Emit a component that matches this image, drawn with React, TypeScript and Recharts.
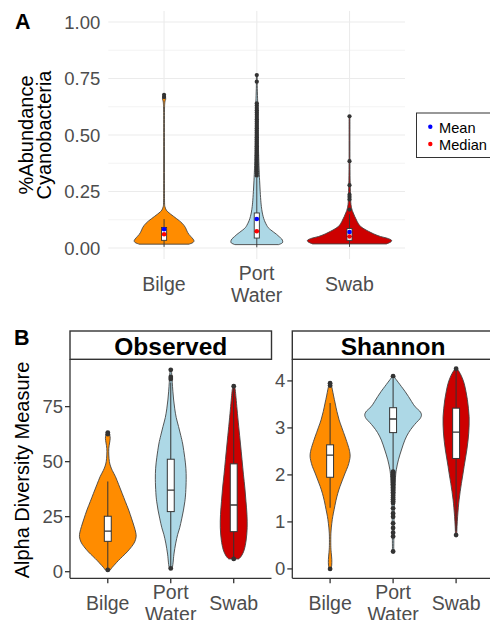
import React from 'react';
import { ComposedChart, Bar, XAxis, YAxis, CartesianGrid } from 'recharts';

type Pt = [number, number];

const FONT = '"Liberation Sans", Arial, Helvetica, sans-serif';

const categories = ['Bilge', 'Port Water', 'Swab'];
const fills = ['#FF8C00', '#ADD8E6', '#CD0000'];

// ---------- Panel A : %Abundance Cyanobacteria ----------
const abundanceTicks = [0, 0.25, 0.5, 0.75, 1];
const abundanceMinorTicks = [0.125, 0.375, 0.625, 0.875];
const abundanceDomain: [number, number] = [-0.05, 1.05];

// [value, density] along each violin
const abundanceBilgeDensity: Pt[] = [
  [0.017, 25], [0.024, 29], [0.032, 30], [0.04, 29], [0.05, 27], [0.06, 25], [0.07, 23.5],
  [0.08, 22.5], [0.09, 21.5], [0.1, 20], [0.11, 18], [0.12, 15.5], [0.13, 12.5], [0.14, 9.5],
  [0.15, 6.5], [0.16, 3.8], [0.168, 2.2], [0.18, 1.1], [0.2, 0.5], [0.3, 0.35], [0.45, 0.3],
  [0.6, 0.35], [0.645, 0.8], [0.658, 1.6], [0.668, 1.4], [0.678, 0.5],
];
const abundancePortDensity: Pt[] = [
  [0.015, 22], [0.022, 25.5], [0.03, 26], [0.04, 25], [0.05, 22.5], [0.06, 20], [0.07, 17],
  [0.08, 14], [0.09, 11.5], [0.1, 10], [0.115, 8.3], [0.13, 7], [0.15, 5.8], [0.17, 5],
  [0.2, 4.2], [0.25, 3.4], [0.3, 2.8], [0.35, 2.3], [0.42, 1.8], [0.5, 1.5], [0.6, 1.2],
  [0.66, 0.8], [0.72, 0.4], [0.765, 0.3],
];
const abundanceSwabDensity: Pt[] = [
  [0.018, 37], [0.027, 41.5], [0.035, 42], [0.043, 38], [0.051, 31], [0.062, 24.5],
  [0.074, 19], [0.085, 14.5], [0.096, 11], [0.107, 9], [0.118, 7.6], [0.13, 6.3], [0.14, 5.2],
  [0.15, 4.3], [0.16, 3.3], [0.175, 2.2], [0.2, 1.3], [0.25, 0.9], [0.3, 0.6], [0.4, 0.4],
  [0.5, 0.35], [0.583, 0.3],
];
const abundanceQ1 = [0.034, 0.044, 0.034];
const abundanceMedian = [0.061, 0.074, 0.051];
const abundanceQ3 = [0.091, 0.155, 0.086];
const abundanceWhiskerLow = [0.005, 0.003, 0.005];
const abundanceWhiskerHigh = [0.128, 0.31, 0.15];
const abundanceMean = [0.083, 0.128, 0.071];
const abundanceBilgeOutliers = [0.668, 0.678];
const abundancePortOutliers = [
  0.32, 0.33, 0.34, 0.35, 0.36, 0.37, 0.38, 0.39, 0.4, 0.41, 0.42, 0.43, 0.44, 0.45, 0.46,
  0.47, 0.48, 0.49, 0.5, 0.51, 0.52, 0.53, 0.54, 0.55, 0.56, 0.57, 0.58, 0.59, 0.6, 0.61,
  0.62, 0.63, 0.64, 0.736, 0.765,
];
const abundanceSwabOutliers = [0.17, 0.215, 0.226, 0.236, 0.278, 0.384, 0.583];

// ---------- Panel B : Observed ----------
const observedTicks = [0, 25, 50, 75];
const observedDomain: [number, number] = [-3.0, 96.5];
const observedBilgeDensity: Pt[] = [
  [0.8, 2.5], [2, 4.5], [3.5, 7.5], [5, 10.5], [7, 15], [9, 19.5], [11.4, 24], [13.5, 27],
  [15.9, 28.5], [18, 28], [20.5, 26.5], [24, 24], [28, 21], [32, 17.5], [35.6, 14.4],
  [39.5, 11], [43.2, 7.7], [46, 4.5], [48, 2.7], [50, 1.6], [53, 1], [56, 1], [58.5, 1.8],
  [60.5, 2.4], [62, 2], [63.2, 0.8],
];
const observedPortDensity: Pt[] = [
  [1.5, 1.5], [4, 2.3], [8, 3.2], [13, 5], [17, 7], [20, 9], [24, 11], [28, 12.8], [32, 14.2],
  [36, 15], [42, 15.5], [47, 15.2], [52, 14], [58, 12], [62, 10], [66, 7.8], [70, 5.5],
  [74, 4], [78, 2.9], [82, 2.1], [86, 1.5], [89, 1.1], [91.7, 0.6],
];
const observedSwabDensity: Pt[] = [
  [5.8, 5], [7, 7.5], [9.9, 10.5], [14.4, 12.5], [20, 13.5], [26, 13.3], [32, 12.3],
  [38, 11.2], [44, 9.8], [51, 8.3], [58, 6.8], [66, 5], [73.5, 3.4], [79, 2.3], [82.6, 1.5],
  [84.5, 0.6],
];
const observedQ1 = [13.8, 27.3, 18.2];
const observedMedian = [18.4, 37.1, 30.3];
const observedQ3 = [25.2, 51.1, 49];
const observedWhiskerLow = [0.8, 1.5, 5.8];
const observedWhiskerHigh = [41, 86, 84.5];
const observedBilgeOutliers = [0.8, 62.5, 63.2];
const observedPortOutliers = [1.5, 87.5, 88.5, 91.7];
const observedSwabOutliers = [5.8, 84.3];

// ---------- Panel B : Shannon ----------
const shannonTicks = [0, 1, 2, 3, 4];
const shannonDomain: [number, number] = [-0.2, 4.46];
const shannonBilgeDensity: Pt[] = [
  [0, 1], [0.08, 1.6], [0.2, 1.7], [0.35, 1.1], [0.5, 0.7], [0.76, 0.8], [0.97, 1.7],
  [1.12, 2.7], [1.26, 4], [1.45, 5.8], [1.61, 7.7], [1.75, 9.8], [1.89, 12.3], [2.04, 15],
  [2.18, 17.7], [2.3, 19.3], [2.4, 20], [2.5, 19.5], [2.62, 18], [2.81, 15], [3.0, 11.8],
  [3.17, 9], [3.35, 6.8], [3.53, 5], [3.68, 3.5], [3.81, 2.3], [3.9, 1.4], [3.95, 0.8],
];
const shannonPortDensity: Pt[] = [
  [0.35, 0.6], [0.8, 0.8], [1.3, 1.1], [1.7, 1.7], [1.95, 2.4], [2.11, 3.2], [2.32, 5.3],
  [2.53, 8.3], [2.74, 11.7], [2.9, 15.5], [3.02, 19.5], [3.12, 23.5], [3.2, 27], [3.28, 28.3],
  [3.36, 26.5], [3.45, 22], [3.56, 18.5], [3.67, 15.3], [3.78, 11.8], [3.88, 8.3],
  [3.96, 5.5], [4.03, 3], [4.1, 0.8],
];
const shannonSwabDensity: Pt[] = [
  [0.72, 0.6], [0.9, 0.9], [1.11, 1.5], [1.3, 2.2], [1.47, 3], [1.65, 4.1], [1.82, 5.3],
  [2.0, 6.7], [2.18, 8], [2.36, 9.4], [2.53, 10.7], [2.71, 11.8], [2.89, 12.6], [3.06, 13],
  [3.24, 13], [3.42, 12.3], [3.6, 11.3], [3.78, 9.8], [3.95, 8], [4.08, 5.8], [4.16, 4],
  [4.22, 2.3], [4.27, 0.8],
];
const shannonQ1 = [1.95, 2.9, 2.35];
const shannonMedian = [2.42, 3.19, 2.91];
const shannonQ3 = [2.64, 3.43, 3.42];
const shannonWhiskerLow = [1.3, 2.1, 0.8];
const shannonWhiskerHigh = [3.53, 4.05, 4.25];
const shannonBilgeOutliers = [0.0, 3.9, 3.95];
const shannonPortOutliers = [
  4.1, 2.07, 2.05, 2.03, 2.0, 1.97, 1.94, 1.9, 1.87, 1.84, 1.8, 1.77, 1.73, 1.7, 1.67, 1.63,
  1.6, 1.56, 1.52, 1.48, 1.44, 1.4, 1.29, 1.18, 1.11, 0.97, 0.87, 0.77, 0.69, 0.37,
];
const shannonSwabOutliers = [0.72, 4.26];

// ---------- helpers ----------
interface Row {
  name: string;
  range: [number, number];
  density: Pt[];
  q1: number;
  median: number;
  q3: number;
  wl: number;
  wh: number;
  outliers: number[];
  mean?: number;
  fill: string;
}

function buildRows(
  density: Pt[][], q1: number[], median: number[], q3: number[], wl: number[], wh: number[],
  outliers: number[][], mean?: number[],
): Row[] {
  return categories.map((name, i) => {
    const vals = [...density[i].map((p) => p[0]), ...outliers[i], wl[i], wh[i]];
    return {
      name,
      range: [Math.min(...vals), Math.max(...vals)] as [number, number],
      density: density[i],
      q1: q1[i],
      median: median[i],
      q3: q3[i],
      wl: wl[i],
      wh: wh[i],
      outliers: outliers[i],
      mean: mean ? mean[i] : undefined,
      fill: fills[i],
    };
  });
}

const abundanceRows = buildRows(
  [abundanceBilgeDensity, abundancePortDensity, abundanceSwabDensity],
  abundanceQ1, abundanceMedian, abundanceQ3, abundanceWhiskerLow, abundanceWhiskerHigh,
  [abundanceBilgeOutliers, abundancePortOutliers, abundanceSwabOutliers], abundanceMean,
);
const observedRows = buildRows(
  [observedBilgeDensity, observedPortDensity, observedSwabDensity],
  observedQ1, observedMedian, observedQ3, observedWhiskerLow, observedWhiskerHigh,
  [observedBilgeOutliers, observedPortOutliers, observedSwabOutliers],
);
const shannonRows = buildRows(
  [shannonBilgeDensity, shannonPortDensity, shannonSwabDensity],
  shannonQ1, shannonMedian, shannonQ3, shannonWhiskerLow, shannonWhiskerHigh,
  [shannonBilgeOutliers, shannonPortOutliers, shannonSwabOutliers],
);

const maxDensity = (rows: Row[]) => Math.max(...rows.flatMap((r) => r.density.map((p) => p[1])));

function smooth(points: number[][], start: string) {
  let d = `${start}${points[0][0]},${points[0][1]}`;
  for (let i = 0; i < points.length - 1; i++) {
    const p0 = points[i - 1] || points[i];
    const p1 = points[i];
    const p2 = points[i + 1];
    const p3 = points[i + 2] || p2;
    const c1x = p1[0] + (p2[0] - p0[0]) / 6;
    const c1y = p1[1] + (p2[1] - p0[1]) / 6;
    const c2x = p2[0] - (p3[0] - p1[0]) / 6;
    const c2y = p2[1] - (p3[1] - p1[1]) / 6;
    d += `C${c1x},${c1y} ${c2x},${c2y} ${p2[0]},${p2[1]}`;
  }
  return d;
}

interface ShapeCfg {
  maxDensity: number;
  minHalf: number;
  boxFrac: number;
  dotR: number;
  meanDots: boolean;
  vGrid: boolean;
  outlineWidth: number;
  lineWidth: number;
}

function ViolinShape(props: any) {
  const { x, y, width, height, payload, cfg, background } = props as {
    x: number; y: number; width: number; height: number; payload: Row; cfg: ShapeCfg;
    background?: { x: number; y: number; width: number; height: number };
  };
  if (!payload || !isFinite(y) || !isFinite(height)) return null;
  const [lo, hi] = payload.range;
  const top = Math.min(y, y + height);
  const bottom = Math.max(y, y + height);
  const pix = (v: number) => bottom - ((v - lo) / (hi - lo)) * (bottom - top);
  const cx = x + width / 2;
  const half = (d: number) => Math.max((d / cfg.maxDensity) * 0.45 * width, cfg.minHalf);
  const left = payload.density.map(([v, d]) => [cx - half(d), pix(v)]);
  const right = payload.density.slice().reverse().map(([v, d]) => [cx + half(d), pix(v)]);
  const path = smooth(left, 'M') + smooth(right, 'L') + 'Z';
  const bw = cfg.boxFrac * width;
  const ink = '#333333';
  return (
    <g>
      {cfg.vGrid && background && (
        <line
          x1={cx}
          x2={cx}
          y1={background.y}
          y2={background.y + background.height}
          stroke="#ebebeb"
          strokeWidth={1.1}
        />
      )}
      <path d={path} fill={payload.fill} stroke="#444444" strokeWidth={cfg.outlineWidth} strokeLinejoin="round" />
      <line x1={cx} x2={cx} y1={pix(payload.wh)} y2={pix(payload.q3)} stroke={ink} strokeWidth={cfg.lineWidth} />
      <line x1={cx} x2={cx} y1={pix(payload.q1)} y2={pix(payload.wl)} stroke={ink} strokeWidth={cfg.lineWidth} />
      <rect
        x={cx - bw / 2}
        y={pix(payload.q3)}
        width={bw}
        height={pix(payload.q1) - pix(payload.q3)}
        fill="#ffffff"
        stroke={ink}
        strokeWidth={cfg.lineWidth}
      />
      <line x1={cx - bw / 2} x2={cx + bw / 2} y1={pix(payload.median)} y2={pix(payload.median)} stroke={ink} strokeWidth={cfg.lineWidth * 1.3} />
      {payload.outliers.map((v, i) => (
        <circle key={i} cx={cx} cy={pix(v)} r={cfg.dotR} fill={ink} />
      ))}
      {cfg.meanDots && payload.mean !== undefined && (
        <>
          <circle cx={cx} cy={pix(payload.mean)} r={2.3} fill="#0000FF" />
          <circle cx={cx} cy={pix(payload.median)} r={2.3} fill="#FF0000" />
        </>
      )}
    </g>
  );
}

function CatTick(props: any) {
  const { x, y, payload } = props;
  const lines = String(payload.value).split(' ');
  const lh = 21.7;
  const base = y + 22.7 - ((lines.length - 1) * lh) / 2;
  return (
    <text textAnchor="middle" fill="#4d4d4d" fontSize={19.5}>
      {lines.map((l, i) => (
        <tspan key={i} x={x} y={base + i * lh}>
          {l}
        </tspan>
      ))}
    </text>
  );
}

const tickStyle = { fill: '#4d4d4d', fontSize: 18.5 };
const axisInk = { stroke: '#333333', strokeWidth: 1.3 };

function PanelA() {
  const cfg: ShapeCfg = {
    maxDensity: maxDensity(abundanceRows), minHalf: 0.4, boxFrac: 0.055, dotR: 2.1,
    meanDots: true, vGrid: true, outlineWidth: 0.9, lineWidth: 0.9,
  };
  return (
    <ComposedChart
      width={490}
      height={320}
      data={abundanceRows}
      margin={{ top: 10.7, right: 85, bottom: 0, left: 48.3 }}
      barCategoryGap={0}
      barGap={0}
    >
      <CartesianGrid stroke="#ebebeb" strokeWidth={0.6} vertical={false} horizontalValues={abundanceMinorTicks} />
      <CartesianGrid stroke="#ebebeb" strokeWidth={1.1} vertical={false} horizontalValues={abundanceTicks} />
      <XAxis
        dataKey="name"
        height={60.7}
        axisLine={false}
        tickLine={false}
        tickSize={6}
        tickMargin={3}
        interval={0}
        padding={{ left: 9.27, right: 9.27 }}
        tick={(p: any) => <CatTick {...p} />}
      />
      <YAxis
        width={60}
        domain={abundanceDomain}
        ticks={abundanceTicks}
        allowDataOverflow
        axisLine={false}
        tickLine={false}
        tickSize={6}
        tickMargin={2}
        tick={tickStyle}
        tickFormatter={(v: number) => v.toFixed(2)}
      />
      <Bar dataKey="range" isAnimationActive={false} shape={(p: any) => <ViolinShape {...p} cfg={cfg} />} />
    </ComposedChart>
  );
}

function PanelB(props: { rows: Row[]; domain: [number, number]; ticks: number[]; width: number; marginLeft: number; marginRight: number; yWidth: number }) {
  const { rows, domain, ticks, width, marginLeft, marginRight, yWidth } = props;
  const cfg: ShapeCfg = {
    maxDensity: maxDensity(rows), minHalf: 0.6, boxFrac: 0.11, dotR: 2.4,
    meanDots: false, vGrid: false, outlineWidth: 0.9, lineWidth: 1,
  };
  return (
    <ComposedChart
      width={width}
      height={290}
      data={rows}
      margin={{ top: 29.3, right: marginRight, bottom: 0, left: marginLeft }}
      barCategoryGap={0}
      barGap={0}
    >
      <XAxis
        dataKey="name"
        height={41.7}
        axisLine={axisInk}
        tickLine={axisInk}
        tickSize={5}
        tickMargin={4}
        interval={0}
        padding={{ left: 6.3, right: 6.3 }}
        tick={(p: any) => <CatTick {...p} />}
      />
      <YAxis
        width={yWidth}
        domain={domain}
        ticks={ticks}
        allowDataOverflow
        axisLine={axisInk}
        tickLine={axisInk}
        tickSize={5}
        tickMargin={2}
        tick={tickStyle}
      />
      <Bar dataKey="range" isAnimationActive={false} shape={(p: any) => <ViolinShape {...p} cfg={cfg} />} />
    </ComposedChart>
  );
}

export default function App() {
  return (
    <div
      style={{
        position: 'absolute', left: 0, top: 0, width: 490, height: 620, overflow: 'hidden',
        background: '#ffffff', fontFamily: FONT,
      }}
    >
      <div style={{ position: 'absolute', left: 0, top: 0 }}>
        <PanelA />
      </div>
      <div style={{ position: 'absolute', left: 0, top: 330 }}>
        <PanelB rows={observedRows} domain={observedDomain} ticks={observedTicks} width={280} marginLeft={20} marginRight={8.5} yWidth={50} />
      </div>
      <div style={{ position: 'absolute', left: 240, top: 330 }}>
        <PanelB rows={shannonRows} domain={shannonDomain} ticks={shannonTicks} width={270} marginLeft={12.3} marginRight={16.1} yWidth={40} />
      </div>
      <svg width={490} height={620} style={{ position: 'absolute', left: 0, top: 0, pointerEvents: 'none' }} fontFamily={FONT}>
        <text x={15} y={29.3} fontSize={21.5} fontWeight="bold" fill="#000">A</text>
        <text x={14} y={345} fontSize={21.5} fontWeight="bold" fill="#000">B</text>
        <text x={33} y={135} fontSize={20} fill="#000" textAnchor="middle" transform="rotate(-90 33 135)">%Abundance</text>
        <text x={51} y={135} fontSize={20} fill="#000" textAnchor="middle" transform="rotate(-90 51 135)">Cyanobacteria</text>
        <text x={28.8} y={470} fontSize={20} fill="#000" textAnchor="middle" transform="rotate(-90 28.8 470)">Alpha Diversity Measure</text>
        {/* legend */}
        <rect x={416.5} y={113} width={80} height={44.5} fill="#ffffff" stroke="#333333" strokeWidth={1} />
        <circle cx={430.3} cy={126.7} r={2.2} fill="#0000FF" />
        <circle cx={430.3} cy={144} r={2.2} fill="#FF0000" />
        <text x={439} y={132.5} fontSize={14.6} fill="#000">Mean</text>
        <text x={439} y={149.8} fontSize={14.6} fill="#000">Median</text>
        {/* facet strips */}
        <rect x={70} y={331} width={201.5} height={28.3} fill="#ffffff" stroke="#333333" strokeWidth={1.4} />
        <text x={170.8} y={354.5} fontSize={24.5} fontWeight="bold" fill="#000" textAnchor="middle">Observed</text>
        <rect x={292.3} y={331} width={210} height={28.3} fill="#ffffff" stroke="#333333" strokeWidth={1.4} />
        <text x={393.1} y={354.5} fontSize={24.5} fontWeight="bold" fill="#000" textAnchor="middle">Shannon</text>
      </svg>
    </div>
  );
}
